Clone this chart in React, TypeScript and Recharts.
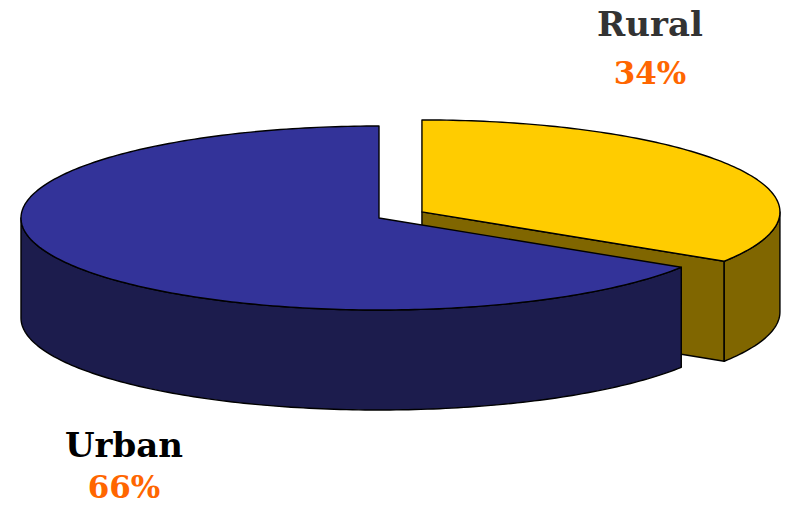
import { PieChart, Pie } from 'recharts'

const categories = ['Rural', 'Urban']
const shares = [34, 66]
const topColors = ['#ffcc00', '#333399']
const sideColors = ['#806600', '#1c1c4d']
const nameColors = ['#333333', '#000000']
const exploded = ['Rural']

const data = categories.map((name, i) => ({ name, value: shares[i] }))

const W = 787
const H = 506
const TILT = 0.257
const DEPTH = 100
const EXPLODE = 49
const RAD = Math.PI / 180
const FONT = '"DejaVu Serif", serif'
// [x, name baseline, percent baseline]
const labelPos: Record<string, [number, number, number]> = {
  Rural: [650, 36, 84],
  Urban: [124, 457, 498],
}

// sample an elliptical arc from a0 to a1 (degrees), optional vertical shift
function arcPts(x0: number, y0: number, rx: number, ry: number, a0: number, a1: number, dy = 0) {
  const pts: string[] = []
  const n = Math.max(2, Math.ceil(Math.abs(a1 - a0)))
  for (let i = 0; i <= n; i++) {
    const a = (a0 + ((a1 - a0) * i) / n) * RAD
    pts.push(`${(x0 + rx * Math.cos(a)).toFixed(2)},${(y0 - ry * Math.sin(a) + dy).toFixed(2)}`)
  }
  return pts
}

function renderSlice(props: any) {
  const { cx, cy, outerRadius, startAngle, endAngle, index, percent } = props
  const name = categories[index]
  const rx = outerRadius
  const ry = outerRadius * TILT
  const mid = (startAngle + endAngle) / 2
  const off = exploded.includes(name) ? EXPLODE : 0
  const x0 = cx + off * Math.cos(mid * RAD)
  const y0 = cy - off * TILT * Math.sin(mid * RAD)
  const pt = (a: number) => [x0 + rx * Math.cos(a * RAD), y0 - ry * Math.sin(a * RAD)]
  const lo = Math.min(startAngle, endAngle)
  const hi = Math.max(startAngle, endAngle)
  const stroke = { stroke: '#000', strokeWidth: 1.4, strokeLinejoin: 'round' as const }

  // radial cut faces, only the ones facing the viewer
  const faces: any[] = []
  ;[
    [startAngle, startAngle + 90],
    [endAngle, endAngle - 90],
  ].forEach(([a, n], k) => {
    if (Math.sin(n * RAD) < -0.01) {
      const [ex, ey] = pt(a)
      faces.push(
        <polygon
          key={'f' + k}
          points={`${x0},${y0} ${ex},${ey} ${ex},${ey + DEPTH} ${x0},${y0 + DEPTH}`}
          fill={sideColors[index]}
          {...stroke}
        />
      )
    }
  })

  // outer walls on the front half of the ellipse
  const walls: any[] = []
  for (let k = -2; k <= 1; k++) {
    const b0 = Math.max(lo, -180 + 360 * k)
    const b1 = Math.min(hi, 360 * k)
    if (b1 - b0 > 0.01) {
      const top = arcPts(x0, y0, rx, ry, b1, b0)
      const bottom = arcPts(x0, y0, rx, ry, b0, b1, DEPTH)
      walls.push(
        <polygon key={'w' + k} points={[...top, ...bottom].join(' ')} fill={sideColors[index]} {...stroke} />
      )
    }
  }

  const topFace = [`${x0},${y0}`, ...arcPts(x0, y0, rx, ry, startAngle, endAngle)].join(' ')
  const [lx, ly, py] = labelPos[name]

  return (
    <g key={name}>
      {faces}
      {walls}
      <polygon points={topFace} fill={topColors[index]} {...stroke} />
      <text x={lx} y={ly} textAnchor="middle" fontFamily={FONT} fontWeight="bold" fontSize={34} fill={nameColors[index]}>
        {name}
      </text>
      <text x={lx} y={py} textAnchor="middle" fontFamily={FONT} fontWeight="bold" fontSize={31} fill="#ff6600">
        {Math.round(percent * 100)}%
      </text>
    </g>
  )
}

export default function App() {
  return (
    <div style={{ position: 'absolute', left: 0, top: 0, width: W, height: H, background: '#fff' }}>
      <PieChart width={W} height={H} margin={{ top: 0, right: 0, bottom: 0, left: 0 }}>
        <Pie
          data={data}
          dataKey="value"
          nameKey="name"
          cx={379}
          cy={218}
          outerRadius={358}
          startAngle={90}
          endAngle={-270}
          fill="none"
          stroke="none"
          label={renderSlice}
          labelLine={false}
          isAnimationActive={false}
        />
      </PieChart>
    </div>
  )
}
